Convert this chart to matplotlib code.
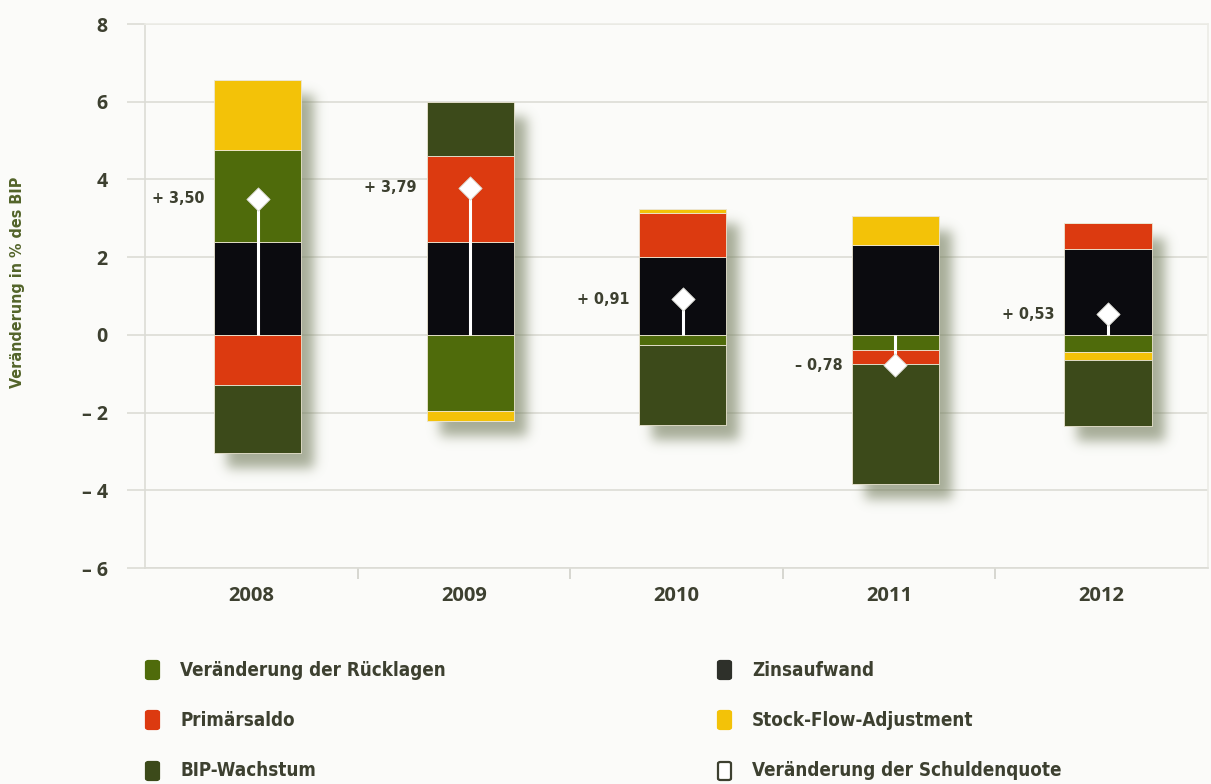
import numpy as np
import matplotlib
matplotlib.use("Agg")
import matplotlib.pyplot as plt
from matplotlib.patches import FancyBboxPatch

# ---- data -------------------------------------------------------------
years = ["2008", "2009", "2010", "2011", "2012"]
zinsaufwand = [2.40, 2.40, 2.00, 2.30, 2.20]
ruecklagen = [2.35, -1.95, -0.27, -0.40, -0.44]
primaersaldo = [-1.30, 2.20, 1.14, -0.35, 0.67]
stock_flow = [1.80, -0.26, 0.10, 0.75, -0.20]
bip_wachstum = [-1.75, 1.40, -2.06, -3.08, -1.70]
schuldenquote = [3.50, 3.79, 0.91, -0.78, 0.53]

series_names = ["Zinsaufwand", "Veränderung der Rücklagen", "Primärsaldo",
                "Stock-Flow-Adjustment", "BIP-Wachstum"]
series_values = [zinsaufwand, ruecklagen, primaersaldo, stock_flow, bip_wachstum]
series_colors = ["#0b0b0f", "#4f6b0b", "#dc3a10", "#f3c208", "#3c4a1a"]

y_ticks = [8, 6, 4, 2, 0, -2, -4, -6]

# ---- style ------------------------------------------------------------
TEXT = "#3d4030"
GRID = "#dcdcd6"
BG = "#fbfbf9"
plt.rcParams["font.family"] = ["Open Sans", "DejaVu Sans"]
COND = dict(family="DejaVu Sans", fontstretch="condensed", fontweight="bold")

fig = plt.figure(figsize=(12.11, 7.84), dpi=100, facecolor=BG)
ax = fig.add_axes([145 / 1211, 216 / 784, 1063 / 1211, 544 / 784])
ax.set_facecolor(BG)

x = np.arange(len(years))
bar_x = x + 0.03
width = 0.41
xmin, xmax, ymin, ymax = -0.5, 4.5, -6, 8
ax.set_xlim(xmin, xmax)
ax.set_ylim(ymin, ymax)

# ---- stacked segments ---------------------------------------------------
tops = np.zeros(len(years))
bots = np.zeros(len(years))
for vals, col in zip(series_values, series_colors):
    vals = np.asarray(vals)
    pos = np.where(vals > 0, vals, 0)
    neg = np.where(vals < 0, vals, 0)
    ax.bar(bar_x, pos, width, bottom=tops, color=col, edgecolor="#ece6d2",
           linewidth=0.6, zorder=4)
    ax.bar(bar_x, neg, width, bottom=bots, color=col, edgecolor="#ece6d2",
           linewidth=0.6, zorder=4)
    tops += pos
    bots += neg

# ---- soft drop shadow behind the bars ---------------------------------
nx, ny = 1063, 544
xs = xmin + (np.arange(nx) + 0.5) / nx * (xmax - xmin)
ys = ymax - (np.arange(ny) + 0.5) / ny * (ymax - ymin)
px_x = (xmax - xmin) / nx
px_y = (ymax - ymin) / ny
mask = np.zeros((ny, nx))
dx, dy = 13 * px_x, 15 * px_y
for bx, t, b in zip(bar_x, tops, bots):
    cx = (xs >= bx - width / 2 + dx) & (xs <= bx + width / 2 + dx)
    cy = (ys <= t - dy) & (ys >= b - dy)
    mask[np.ix_(cy, cx)] = 1.0
sig = 6.0
k = np.arange(-20, 21)
kern = np.exp(-0.5 * (k / sig) ** 2)
kern /= kern.sum()
blur = np.apply_along_axis(lambda r: np.convolve(r, kern, mode="same"), 1, mask)
blur = np.apply_along_axis(lambda c: np.convolve(c, kern, mode="same"), 0, blur)
shadow = np.zeros((ny, nx, 4))
shadow[..., 0] = 0.45
shadow[..., 1] = 0.49
shadow[..., 2] = 0.36
shadow[..., 3] = 0.62 * blur
ax.imshow(shadow, extent=(xmin, xmax, ymin, ymax), origin="upper",
          aspect="auto", interpolation="bilinear", zorder=3)

# ---- change of debt ratio: stem + diamond -------------------------------
ax.vlines(bar_x, 0, schuldenquote, color="white", linewidth=2.2, zorder=5)
ax.scatter(bar_x, schuldenquote, marker="D", s=140, color="white",
           edgecolor="#d8d8d0", linewidth=0.6, zorder=6)

for bx, v in zip(bar_x, schuldenquote):
    sign = "+" if v >= 0 else "\u2013"
    txt = f"{sign} {abs(v):.2f}".replace(".", ",")
    ax.annotate(txt, (bx - width / 2, v), xytext=(-7, 0),
                textcoords="offset points", ha="right", va="center",
                fontsize=11.5, color=TEXT, zorder=7, **COND)

# ---- axes decoration ----------------------------------------------------
ax.set_yticks(y_ticks)
ax.set_yticklabels([("\u2013 " + str(abs(t))) if t < 0 else str(t) for t in y_ticks],
                   fontsize=14, fontweight="bold", color=TEXT)
ax.tick_params(axis="y", length=13, width=1.2, color=GRID, pad=14)
ax.grid(axis="y", color=GRID, linewidth=1.2, zorder=0)
ax.set_axisbelow(True)

ax.set_xticks(x)
ax.set_xticklabels(years, fontsize=14.5, fontweight="bold", color=TEXT)
ax.tick_params(axis="x", which="major", length=0, pad=13)
ax.set_xticks(x[:-1] + 0.5, minor=True)
ax.tick_params(axis="x", which="minor", length=8, width=1.2, color="#d0d0ca")

for side in ("left", "right", "top", "bottom"):
    ax.spines[side].set_color(GRID)
    ax.spines[side].set_linewidth(1.2)
ax.spines["top"].set_color("#ecece6")
ax.spines["right"].set_color("#ecece6")

fig.text(18 / 1211, 1 - 282 / 784, "Veränderung in % des BIP", rotation=90,
         ha="center", va="center", fontsize=11.5, color="#53642a", **COND)

# ---- legend -------------------------------------------------------------
legend_items = [
    ("Veränderung der Rücklagen", series_colors[1], 0, 0),
    ("Primärsaldo", series_colors[2], 0, 1),
    ("BIP-Wachstum", series_colors[4], 0, 2),
    ("Zinsaufwand", "#2e302a", 1, 0),
    ("Stock-Flow-Adjustment", series_colors[3], 1, 1),
    ("Veränderung der Schuldenquote", "white", 1, 2),
]
col_x = [146, 718]
row_y = [670, 720, 771]
for label, col, c, r in legend_items:
    px, py = col_x[c], row_y[r]
    ec = TEXT if col == "white" else col
    patch = FancyBboxPatch((px / 1211, 1 - (py + 9) / 784), 13 / 1211, 18 / 784,
                           boxstyle="round,pad=0.0,rounding_size=0.002",
                           transform=fig.transFigure, facecolor=col,
                           edgecolor=ec, linewidth=1.6)
    fig.add_artist(patch)
    fig.text((px + 34) / 1211, 1 - py / 784, label, ha="left", va="center",
             fontsize=13.5, color=TEXT, **COND)

fig.savefig("out.png", dpi=100, facecolor=BG)
